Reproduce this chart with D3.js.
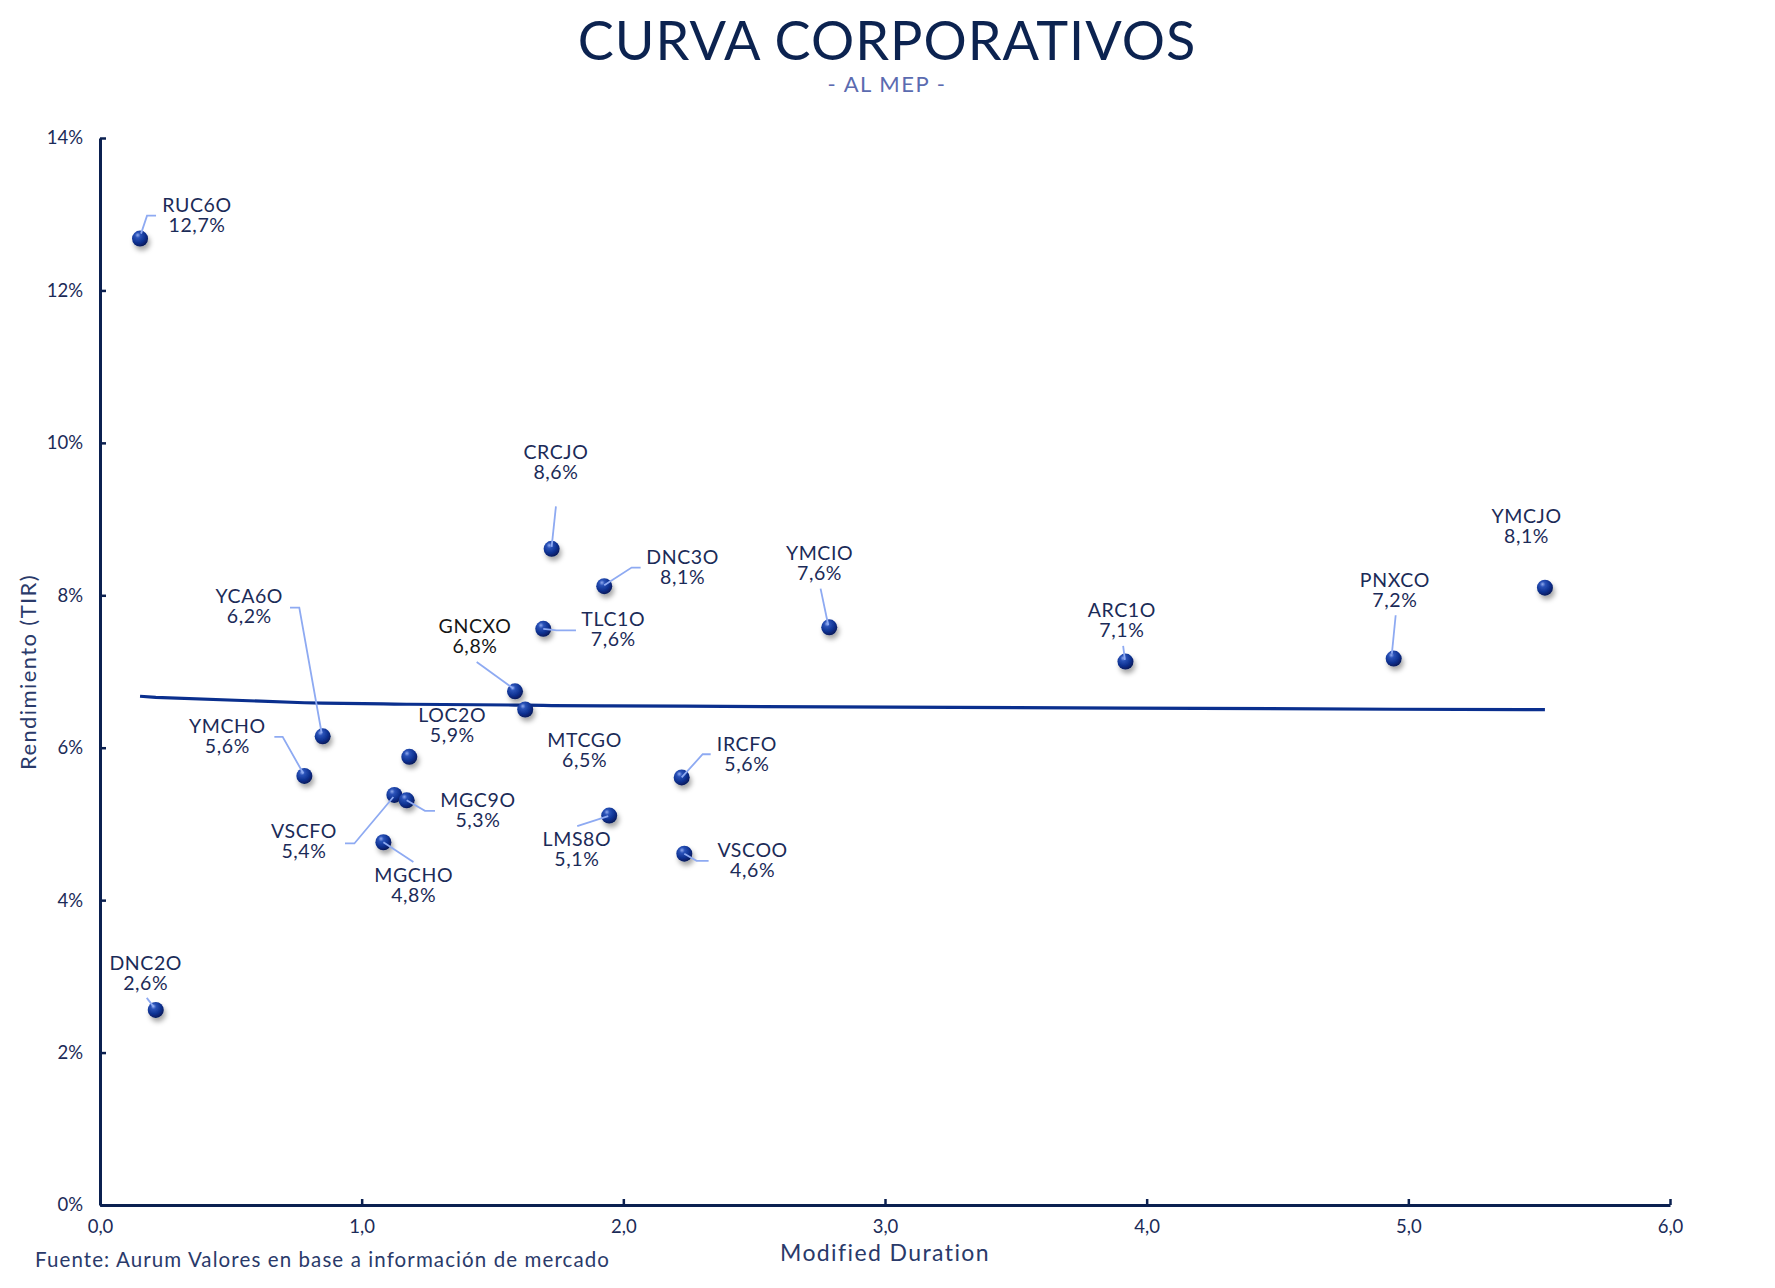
<!DOCTYPE html>
<html><head><meta charset="utf-8">
<script src="https://cdn.jsdelivr.net/npm/d3@7"></script>
<style>
html,body{margin:0;padding:0;background:#fff;}
svg{display:block;font-family:Lato, "Noto Sans", sans-serif;}
</style></head>
<body>
<svg id="chart" width="1775" height="1288"></svg>
<script>
// ---- data ----
const bonds = ["RUC6O","DNC2O","YMCHO","YCA6O","VSCFO","MGC9O","MGCHO","LOC2O","GNCXO","MTCGO","CRCJO","TLC1O","DNC3O","LMS8O","IRCFO","VSCOO","YMCIO","ARC1O","PNXCO","YMCJO"];
const duration = [0.153,0.213,0.781,0.851,1.125,1.172,1.083,1.182,1.586,1.625,1.726,1.694,1.927,1.946,2.223,2.233,2.787,3.919,4.944,5.522];
const yieldTIR = [12.68,2.56,5.63,6.15,5.38,5.31,4.76,5.88,6.74,6.50,8.61,7.56,8.12,5.11,5.61,4.61,7.58,7.13,7.17,8.10];
const yieldLabels = ["12,7%","2,6%","5,6%","6,2%","5,4%","5,3%","4,8%","5,9%","6,8%","6,5%","8,6%","7,6%","8,1%","5,1%","5,6%","4,6%","7,6%","7,1%","7,2%","8,1%"];
const trendDuration = [0.153,0.213,0.781,0.851,1.083,1.125,1.172,1.182,1.586,1.625,1.694,1.726,1.927,1.946,2.223,2.233,2.787,3.919,4.944,5.522];
const trendYield = [6.675,6.66,6.59,6.585,6.575,6.572,6.57,6.57,6.56,6.558,6.555,6.553,6.55,6.55,6.545,6.545,6.535,6.52,6.505,6.50];
const xTicks = [0,1,2,3,4,5,6];
const xTickLabels = ["0,0","1,0","2,0","3,0","4,0","5,0","6,0"];
const yTicks = [0,2,4,6,8,10,12,14];
const yTickLabels = ["0%","2%","4%","6%","8%","10%","12%","14%"];

// ---- label layout (pixel offsets from each point) ----
const labelLayout = {
  RUC6O:{dx:57,dy:-27,lead:[[1,-5],[7,-23],[16,-23]]},
  DNC2O:{dx:-10,dy:-40,lead:[[-9,-12],[-2,-3]]},
  YMCHO:{dx:-77,dy:-43,lead:[[-30,-39],[-21.7,-39],[-1,-2.4]]},
  YCA6O:{dx:-73.4,dy:-133,lead:[[-32.7,-128.7],[-23.4,-128.7],[-1,-3]]},
  VSCFO:{dx:-90.4,dy:43.5,lead:[[-49.4,48.5],[-40,48.5],[-1,2]]},
  MGC9O:{dx:71.3,dy:6.6,lead:[[0,0],[18.3,10.6],[28.3,10.6]]},
  MGCHO:{dx:30.3,dy:39.7,lead:[[0,0],[30,19.7]]},
  LOC2O:{dx:43,dy:-35,lead:null},
  GNCXO:{dx:-40,dy:-58.4,lead:[[-38.3,-29.4],[-1.7,-2.8]],dark:true},
  MTCGO:{dx:59.4,dy:37.3,lead:null},
  CRCJO:{dx:4.3,dy:-90.2,lead:[[4.3,-42.5],[0,-2]]},
  TLC1O:{dx:70,dy:-2.8,lead:[[0,0],[13.4,1.5],[32.7,1.5]]},
  DNC3O:{dx:78.4,dy:-21.9,lead:[[0,-1],[27.4,-18.6],[36.4,-18.6]]},
  LMS8O:{dx:-32.3,dy:30.6,lead:[[-32,10.6],[-1,0.6]]},
  IRCFO:{dx:65.2,dy:-26.5,lead:[[0,0],[21,-23.2],[29,-23.2]]},
  VSCOO:{dx:68.3,dy:3.2,lead:[[0,0],[12.3,7.2],[24.3,7.2]]},
  YMCIO:{dx:-9.7,dy:-67,lead:[[-8.7,-38.7],[-1,-2]]},
  ARC1O:{dx:-3.6,dy:-44.2,lead:[[-2.3,-15.7],[-0.6,-1.7]]},
  PNXCO:{dx:1.2,dy:-71.8,lead:[[2,-43.3],[-1.8,-5]]},
  YMCJO:{dx:-18.4,dy:-64.4,lead:null}
};

const svg = d3.select("#chart");
const W = 1775, H = 1288;
const m = {left:100, right:105, top:138, bottom:83};
const x = d3.scaleLinear().domain([0,6]).range([m.left, W - m.right]);
const y = d3.scaleLinear().domain([0,14]).range([H - m.bottom, m.top]);

const navy = "#0b2050";
const textCol = "#1b2b58";

// defs
const defs = svg.append("defs");
const grad = defs.append("radialGradient").attr("id","ball").attr("cx","38%").attr("cy","32%").attr("r","68%").attr("fx","35%").attr("fy","28%");
grad.append("stop").attr("offset","0%").attr("stop-color","#8fa9ee");
grad.append("stop").attr("offset","25%").attr("stop-color","#2a52b8");
grad.append("stop").attr("offset","70%").attr("stop-color","#0c2f8e");
grad.append("stop").attr("offset","100%").attr("stop-color","#061a5c");
const f = defs.append("filter").attr("id","shadow").attr("x","-60%").attr("y","-60%").attr("width","220%").attr("height","220%");
f.append("feDropShadow").attr("dx",2).attr("dy",4).attr("stdDeviation",2.5).attr("flood-color","#000").attr("flood-opacity",0.35);

// title
svg.append("text").attr("x",887).attr("y",60).attr("text-anchor","middle")
  .attr("font-size",54).attr("fill","#0c2350").attr("letter-spacing",1).text("CURVA CORPORATIVOS");
svg.append("text").attr("x",887).attr("y",92).attr("text-anchor","middle")
  .attr("font-size",22).attr("fill","#5b6bb0").attr("letter-spacing",1.5).text("- AL MEP -");

// axes
const yAxis = d3.axisLeft(y).tickValues(yTicks).tickFormat((d,i)=>yTickLabels[i]).tickSizeInner(-6).tickSizeOuter(0).tickPadding(17);
const xAxis = d3.axisBottom(x).tickValues(xTicks).tickFormat((d,i)=>xTickLabels[i]).tickSizeInner(-6).tickSizeOuter(0).tickPadding(15);

const gy = svg.append("g").attr("transform",`translate(${m.left},0)`).call(yAxis);
const gx = svg.append("g").attr("transform",`translate(0,${H - m.bottom})`).call(xAxis);
[gx,gy].forEach(g=>{
  g.select(".domain").attr("stroke",navy).attr("stroke-width",3);
  g.selectAll(".tick line").attr("stroke",navy).attr("stroke-width",2.5);
  g.selectAll(".tick text").attr("fill",textCol).attr("font-size",18.5).attr("font-family","Lato, sans-serif");
});

// axis titles
svg.append("text").attr("x",885).attr("y",1261).attr("text-anchor","middle").attr("font-size",23).attr("letter-spacing",1.4).attr("fill","#2a3a6a").text("Modified Duration");
svg.append("text").attr("transform","translate(36,672) rotate(-90)").attr("text-anchor","middle").attr("font-size",22).attr("letter-spacing",1.4).attr("fill","#2a3a6a").text("Rendimiento (TIR)");
svg.append("text").attr("x",35).attr("y",1267).attr("font-size",20.5).attr("letter-spacing",1.1).attr("fill","#2a3a6a").text("Fuente: Aurum Valores en base a información de mercado");

// trend line
const trend = trendDuration.map((d,i)=>[d,trendYield[i]]);
svg.append("path").datum(trend)
  .attr("d", d3.line().x(d=>x(d[0])).y(d=>y(d[1])))
  .attr("fill","none").attr("stroke","#0a2f8e").attr("stroke-width",3.2);

// points
const pts = bonds.map((b,i)=>({name:b, dur:duration[i], yld:yieldTIR[i], lab:yieldLabels[i], L:labelLayout[b]}));
svg.append("g").selectAll("circle").data(pts).join("circle")
  .attr("cx",d=>x(d.dur)).attr("cy",d=>y(d.yld)).attr("r",8)
  .attr("fill","url(#ball)").attr("filter","url(#shadow)");

// leader lines
svg.append("g").selectAll("path").data(pts.filter(d=>d.L.lead)).join("path")
  .attr("d",d=>d3.line()(d.L.lead.map(p=>[x(d.dur)+p[0], y(d.yld)+p[1]])))
  .attr("fill","none").attr("stroke","#8eaaf2").attr("stroke-width",1.8);

// labels
const lg = svg.append("g").selectAll("text").data(pts).join("text")
  .attr("text-anchor","middle").attr("font-size",19.5).attr("letter-spacing",0.6)
  .attr("fill",d=>d.L.dark ? "#151515" : textCol);
lg.append("tspan").attr("x",d=>x(d.dur)+d.L.dx).attr("y",d=>y(d.yld)+d.L.dy).text(d=>d.name);
lg.append("tspan").attr("x",d=>x(d.dur)+d.L.dx).attr("y",d=>y(d.yld)+d.L.dy+20).text(d=>d.lab);
</script>
</body></html>
